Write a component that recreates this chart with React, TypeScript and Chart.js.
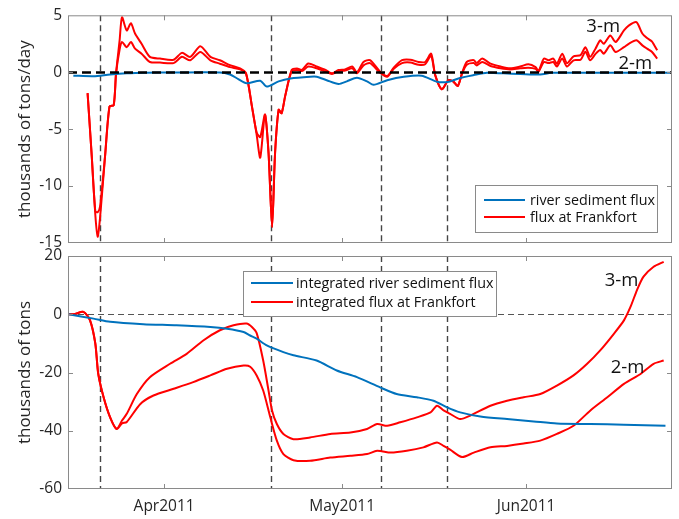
import React, { useEffect, useRef } from 'react';
import { Chart, registerables } from 'chart.js';

Chart.register(...registerables);

const FONT = '"Open Sans", "DejaVu Sans", sans-serif';
Chart.defaults.font.family = FONT;

// x axis: days since 1 Apr 2011
const xMin = -16.2;
const xMax = 85.6;
const xTickDays = [0, 30, 61];
const xTickLabels = ['Apr2011', 'May2011', 'Jun2011'];
const eventDays = [-10.8, 18.0, 36.6, 47.6];

// ---- top panel: daily flux (thousands of tons/day)
const topRedDays = [
  -12.9, -12.2, -11.6, -11.2, -10.8, -9.95, -9.2, -8.5, -8.1, -7.5, -7.1, -6.3, -5.6, -4.9, -3.8, -2.4,
  -0.7, 1.6, 3.0, 4.4, 6.1, 7.8, 9.4, 11.1, 12.8, 13.8, 14.8, 15.6, 16.2, 17.0, 17.6, 18.2, 18.7, 19.3,
  19.8, 20.4, 21.5, 22.4, 23.2, 24.3, 25.7, 27.2, 28.3, 29.4, 30.5, 31.7, 32.5, 33.6, 34.7, 36.4, 37.6,
  38.7, 40.1, 41.5, 42.9, 44.0, 45.0, 45.7, 46.8, 47.9, 48.7, 49.5, 50.2, 51.0, 52.2, 52.7, 53.6, 55.0,
  56.7, 58.3, 60.0, 61.4, 62.6, 63.1, 64.0, 64.8, 65.6, 66.2, 67.1, 67.9, 69.0, 70.2, 71.0, 71.8, 72.7,
  73.5, 74.1, 75.2, 76.1, 77.5, 78.3, 79.6, 80.6, 81.4, 82.2, 83.1,
];
const topFlux3m = [
  -1.84, -7.35, -12.5, -14.45, -12.8, -7.35, -3.0, -2.9, -0.1, 2.8, 4.83, 3.67, 4.3, 3.4, 2.5, 1.35,
  1.2, 1.1, 1.7, 1.35, 2.28, 1.35, 1.05, 0.62, 0.33, -0.1, -3.0, -5.5, -7.5, -3.72, -7.1, -13.6, -7.1, -3.3,
  -3.6, -2.1, 0.2, 0.33, 0.2, 0.77, 0.5, 0.2, -0.1, 0.2, 0.25, 0.5, 0.0, 0.9, 1.06, 0.05, -0.33,
  0.4, 1.06, 1.1, 0.9, 0.9, 1.63, -0.25, -1.5, -0.7, -0.8, -1.2, -0.1, 0.9, 1.06, 0.8, 1.2, 0.75,
  0.5, 0.35, 0.5, 0.7, 0.45, 0.1, 1.2, 1.05, 1.2, 0.75, 1.63, 0.8, 1.4, 1.5, 2.2, 1.35, 2.07,
  2.8, 2.5, 3.23, 2.65, 3.67, 4.1, 4.4, 3.4, 3.0, 2.7, 1.93,
];
const topFlux2m = [
  -1.84, -7.35, -12.2, -12.3, -11.8, -7.35, -3.0, -2.9, -0.1, 2.0, 2.65, 2.2, 2.65, 2.07, 1.63, 0.9,
  0.85, 0.8, 1.35, 1.05, 1.78, 1.05, 0.75, 0.45, 0.25, -0.1, -3.0, -5.3, -5.7, -3.72, -7.1, -13.6, -7.1, -3.3,
  -3.6, -2.1, 0.1, 0.2, 0.1, 0.5, 0.35, 0.05, -0.15, 0.1, 0.15, 0.35, -0.1, 0.6, 0.8, -0.05, -0.4,
  0.3, 0.8, 0.85, 0.65, 0.7, 1.45, -0.3, -1.5, -0.7, -0.8, -1.2, -0.15, 0.65, 0.8, 0.6, 0.9, 0.55,
  0.35, 0.25, 0.35, 0.4, 0.3, 0.05, 0.9, 0.8, 0.9, 0.5, 1.2, 0.5, 1.05, 1.1, 1.8, 1.05, 1.6,
  1.95, 1.63, 2.36, 1.78, 2.2, 2.5, 2.8, 2.36, 2.07, 1.8, 1.2,
];
const topBlueDays = [
  -15.3, -11.9, -9.1, -6.3, -3.0, 2.0, 9.4, 11.1, 12.5, 13.9, 16.2, 17.3, 19.3, 21.3, 24.6, 25.7, 27.4,
  29.4, 30.8, 32.5, 34.2, 35.3, 37.6, 40.4, 43.4, 46.0, 48.0, 49.9, 52.2, 54.4, 57.2, 60.0, 63.4, 65.3,
  75.0, 85.3,
];
const topRiverFlux = [
  -0.3, -0.35, -0.2, -0.1, -0.05, -0.02, -0.02, -0.2, -0.6, -0.97, -0.75, -1.26, -0.8, -0.55, -0.4, -0.4, -0.7,
  -1.03, -0.8, -0.48, -0.8, -1.1, -0.7, -0.4, -0.3, -0.83, -0.83, -0.5, -0.25, -0.05, -0.1, -0.15, -0.2, -0.05,
  -0.05, -0.05,
];

// ---- bottom panel: integrated flux (thousands of tons)
const botBlueDays = [
  -16.1, -11.9, -9.1, -3.5, 2.1, 7.8, 10.6, 13.4, 14.5, 15.6, 17.3, 20.1, 21.8, 25.7, 29.1, 32.5, 36.4,
  39.2, 42.6, 45.4, 47.7, 49.9, 53.3, 57.8, 62.3, 66.2, 71.8, 77.5, 84.5,
];
const botRiverInt = [
  0, -1.5, -2.6, -3.4, -3.8, -4.4, -5.0, -6.1, -7.3, -8.4, -10.7, -13.0, -14.1, -15.9, -19.3, -21.6, -25.1,
  -27.4, -28.5, -29.7, -32.0, -33.7, -35.1, -36.0, -36.8, -37.5, -37.7, -37.9, -38.3,
];
const bot3mDays = [
  -16.1, -15.2, -13.6, -12.5, -11.6, -11.1, -10.2, -9.1, -8.0, -7.1, -6.3, -4.6, -2.4, 1.0, 3.8, 6.6, 9.4,
  11.7, 13.9, 14.8, 15.6, 16.7, 17.6, 18.2, 19.0, 20.1, 21.8, 24.6, 28.0, 31.4, 34.2, 35.9, 37.6, 39.8,
  42.6, 44.9, 46.0, 47.1, 48.2, 49.9, 51.6, 55.0, 57.8, 60.6, 63.4, 66.2, 69.0, 71.3, 73.5, 75.8, 77.5,
  78.6, 79.7, 80.8, 82.5, 84.2,
];
const botInt3m = [
  0, 0, 0.8, -2, -10, -20.5, -28.5, -35.4, -39.4, -36.5, -34.2, -27.4, -21.6, -17, -13.6, -9, -5.5,
  -3.8, -3.2, -4.4, -6.5, -15.9, -26.2, -33.1, -37.7, -41.1, -42.9, -42.3, -41.1, -40.6, -39.4, -37.7, -38.3, -37.1,
  -35.4, -33.7, -31.4, -33, -34.2, -36, -34.8, -31.4, -29.7, -28.5, -27.4, -24.5, -21, -17, -12.4, -6.7, -2.1,
  2.5, 8.3, 12.9, 16.3, 18.0,
];
const bot2mDays = [
  -16.1, -15.2, -13.6, -12.5, -11.6, -11.1, -10.2, -9.1, -8.0, -7.1, -6.3, -4.0, -1.8, 1.6, 4.9, 7.8, 10.6,
  13.4, 14.5, 15.6, 16.7, 17.9, 19.0, 20.1, 21.8, 24.6, 28.0, 31.4, 34.2, 35.9, 38.2, 40.9, 43.7, 46.0,
  47.1, 48.2, 50.2, 52.2, 55.0, 57.8, 60.6, 63.4, 66.2, 69.0, 71.8, 74.7, 77.5, 80.3, 82.5, 84.2,
];
const botInt2m = [
  0, 0, 0.8, -2, -10, -20.5, -28.5, -35.4, -39.4, -37.5, -37, -30.8, -27.9, -25.6, -23.3, -21, -18.7,
  -17.6, -18, -21, -26.2, -35.4, -43.4, -48, -50.1, -50.3, -49.2, -48.6, -48, -46.9, -47.5, -46.9, -45.7, -44,
  -45.2, -46.5, -49, -47.5, -45.7, -45.2, -44.4, -43.4, -41.1, -38.3, -33.1, -28.5, -23.9, -20.5, -17, -15.9,
];

// text labels on the curves
const topNoteText = ['3-m', '2-m'];
const topNoteDays = [74.0, 79.4];
const topNoteVals = [4.0, 0.78];
const botNoteText = ['3-m', '2-m'];
const botNoteDays = [77.1, 78.1];
const botNoteVals = [11.4, -18.4];

const topLegendLabels = ['river sediment flux', 'flux at Frankfort'];
const botLegendLabels = ['integrated river sediment flux', 'integrated flux at Frankfort'];

const BLUE = '#0072BD';
const RED = '#FF0000';
const TXT = '#262626';

const pts = (xs: number[], ys: number[]) => xs.map((x, i) => ({ x, y: ys[i] }));

const decorPlugin = {
  id: 'decor',
  beforeDatasetsDraw(chart: any, _a: any, o: any) {
    const { ctx, chartArea: a } = chart;
    const x = chart.scales.x;
    const y = chart.scales.y;
    ctx.save();
    ctx.beginPath();
    ctx.rect(a.left, a.top, a.right - a.left, a.bottom - a.top);
    ctx.clip();
    ctx.setLineDash([6, 4]);
    ctx.strokeStyle = '#454545';
    ctx.lineWidth = 1.4;
    eventDays.forEach((d) => {
      const px = Math.round(x.getPixelForValue(d)) + 0.5;
      ctx.beginPath();
      ctx.moveTo(px, a.top);
      ctx.lineTo(px, a.bottom);
      ctx.stroke();
    });
    if (!o.zeroOnTop) {
      ctx.setLineDash(o.zeroDash);
      ctx.strokeStyle = o.zeroColor;
      ctx.lineWidth = o.zeroWidth;
      const py = Math.round(y.getPixelForValue(0)) + 0.5;
      ctx.beginPath();
      ctx.moveTo(a.left, py);
      ctx.lineTo(a.right, py);
      ctx.stroke();
    }
    ctx.restore();
  },
  afterDatasetsDraw(chart: any, _a: any, o: any) {
    const { ctx, chartArea: a } = chart;
    const x = chart.scales.x;
    const y = chart.scales.y;
    ctx.save();
    if (o.zeroOnTop) {
      ctx.setLineDash(o.zeroDash);
      ctx.strokeStyle = o.zeroColor;
      ctx.lineWidth = o.zeroWidth;
      const py = Math.round(y.getPixelForValue(0)) + 0.5;
      ctx.beginPath();
      ctx.moveTo(a.left, py);
      ctx.lineTo(a.right, py);
      ctx.stroke();
    }
    ctx.setLineDash([]);
    // axes box
    ctx.strokeStyle = '#8a8a8a';
    ctx.lineWidth = 1;
    ctx.strokeRect(a.left + 0.5, a.top + 0.5, a.right - a.left - 1, a.bottom - a.top - 1);
    // inside ticks
    const tl = 5;
    ctx.beginPath();
    xTickDays.forEach((d) => {
      const px = Math.round(x.getPixelForValue(d)) + 0.5;
      ctx.moveTo(px, a.bottom);
      ctx.lineTo(px, a.bottom - tl);
      ctx.moveTo(px, a.top);
      ctx.lineTo(px, a.top + tl);
    });
    y.ticks.forEach((t: any) => {
      const py = Math.round(y.getPixelForValue(t.value)) + 0.5;
      if (py <= a.top + 1 || py >= a.bottom - 1) return;
      ctx.moveTo(a.left, py);
      ctx.lineTo(a.left + tl, py);
      ctx.moveTo(a.right, py);
      ctx.lineTo(a.right - tl, py);
    });
    ctx.stroke();

    // legend
    const L = o.legend;
    ctx.fillStyle = '#ffffff';
    ctx.fillRect(L.box[0], L.box[1], L.box[2] - L.box[0], L.box[3] - L.box[1]);
    ctx.strokeStyle = '#8a8a8a';
    ctx.lineWidth = 1;
    ctx.strokeRect(L.box[0] + 0.5, L.box[1] + 0.5, L.box[2] - L.box[0], L.box[3] - L.box[1]);
    ctx.font = `${L.fontSize}px ${FONT}`;
    ctx.textBaseline = 'middle';
    ctx.textAlign = 'left';
    L.labels.forEach((lab: string, i: number) => {
      const ds = chart.data.datasets[L.dsIndex[i]];
      ctx.strokeStyle = ds.borderColor;
      ctx.lineWidth = 2;
      ctx.beginPath();
      ctx.moveTo(L.lineX[0], L.rowY[i]);
      ctx.lineTo(L.lineX[1], L.rowY[i]);
      ctx.stroke();
      ctx.fillStyle = '#111111';
      ctx.fillText(lab, L.textX, L.rowY[i] + 0.5);
    });

    // curve notes
    const N = o.notes;
    ctx.font = `${N.fontSize}px ${FONT}`;
    ctx.fillStyle = '#111111';
    ctx.textAlign = 'center';
    ctx.textBaseline = 'middle';
    N.text.forEach((t: string, i: number) => {
      ctx.fillText(t, x.getPixelForValue(N.days[i]), y.getPixelForValue(N.vals[i]));
    });
    ctx.restore();
  },
};

const lineDs = (label: string, data: any[], color: string) => ({
  label,
  data,
  borderColor: color,
  backgroundColor: color,
  borderWidth: 2,
  pointRadius: 0,
  tension: 0.25,
  fill: false,
  borderJoinStyle: 'round' as const,
});

const yAxis = (min: number, max: number, step: number, title: string) => ({
  type: 'linear' as const,
  min,
  max,
  afterFit: (s: any) => {
    s.width = 68;
  },
  grid: { display: false, drawTicks: false },
  border: { display: false },
  ticks: { stepSize: step, padding: 6, color: TXT, font: { size: 15.5 } },
  title: {
    display: true,
    text: title,
    color: TXT,
    font: { size: 17 },
    padding: { top: 15, bottom: 0 },
  },
});

export default function App() {
  const topRef = useRef<HTMLCanvasElement>(null);
  const botRef = useRef<HTMLCanvasElement>(null);

  useEffect(() => {
    const top = new Chart(topRef.current as HTMLCanvasElement, {
      type: 'line',
      data: {
        datasets: [
          lineDs('river sediment flux', pts(topBlueDays, topRiverFlux), BLUE),
          lineDs('flux at Frankfort (3-m)', pts(topRedDays, topFlux3m), RED),
          lineDs('flux at Frankfort (2-m)', pts(topRedDays, topFlux2m), RED),
        ],
      },
      options: {
        responsive: false,
        animation: false,
        layout: { padding: { left: 0, right: 7, top: 13, bottom: 17 } },
        scales: {
          x: { type: 'linear', min: xMin, max: xMax, display: false },
          y: yAxis(-15, 5, 5, 'thousands of tons/day'),
        },
        plugins: {
          legend: { display: false },
          tooltip: { enabled: false },
          decor: {
            zeroOnTop: true,
            zeroDash: [9, 5],
            zeroColor: '#000000',
            zeroWidth: 2.5,
            legend: {
              box: [475, 185, 657, 232],
              lineX: [484, 525],
              textX: 530,
              rowY: [200, 217],
              fontSize: 14.3,
              labels: topLegendLabels,
              dsIndex: [0, 1],
            },
            notes: { text: topNoteText, days: topNoteDays, vals: topNoteVals, fontSize: 18.5 },
          },
        } as any,
      },
      plugins: [decorPlugin],
    });

    const bot = new Chart(botRef.current as HTMLCanvasElement, {
      type: 'line',
      data: {
        datasets: [
          lineDs('integrated river sediment flux', pts(botBlueDays, botRiverInt), BLUE),
          lineDs('integrated flux at Frankfort (3-m)', pts(bot3mDays, botInt3m), RED),
          lineDs('integrated flux at Frankfort (2-m)', pts(bot2mDays, botInt2m), RED),
        ],
      },
      options: {
        responsive: false,
        animation: false,
        layout: { padding: { left: 0, right: 7, top: 16, bottom: 0 } },
        scales: {
          x: {
            type: 'linear',
            min: xMin,
            max: xMax,
            afterBuildTicks: (s: any) => {
              s.ticks = xTickDays.map((v) => ({ value: v }));
            },
            afterFit: (s: any) => {
              s.height = 30;
            },
            grid: { display: false, drawTicks: false },
            border: { display: false },
            ticks: {
              autoSkip: false,
              maxRotation: 0,
              padding: 8,
              color: TXT,
              font: { size: 15.5 },
              callback: (_v: any, i: number) => xTickLabels[i],
            },
          },
          y: yAxis(-60, 20, 20, 'thousands of tons'),
        },
        plugins: {
          legend: { display: false },
          tooltip: { enabled: false },
          decor: {
            zeroOnTop: false,
            zeroDash: [6, 4],
            zeroColor: '#555555',
            zeroWidth: 1.2,
            legend: {
              box: [243, 31, 496, 76],
              lineX: [251, 293],
              textX: 296,
              rowY: [43, 62],
              fontSize: 14.3,
              labels: botLegendLabels,
              dsIndex: [0, 1],
            },
            notes: { text: botNoteText, days: botNoteDays, vals: botNoteVals, fontSize: 18.5 },
          },
        } as any,
      },
      plugins: [decorPlugin],
    });

    return () => {
      top.destroy();
      bot.destroy();
    };
  }, []);

  return (
    <div style={{ position: 'absolute', left: 0, top: 0, width: 679, height: 519, background: '#ffffff' }}>
      <canvas ref={topRef} width={679} height={260} style={{ position: 'absolute', left: 0, top: 0 }} />
      <canvas ref={botRef} width={679} height={279} style={{ position: 'absolute', left: 0, top: 240 }} />
    </div>
  );
}
